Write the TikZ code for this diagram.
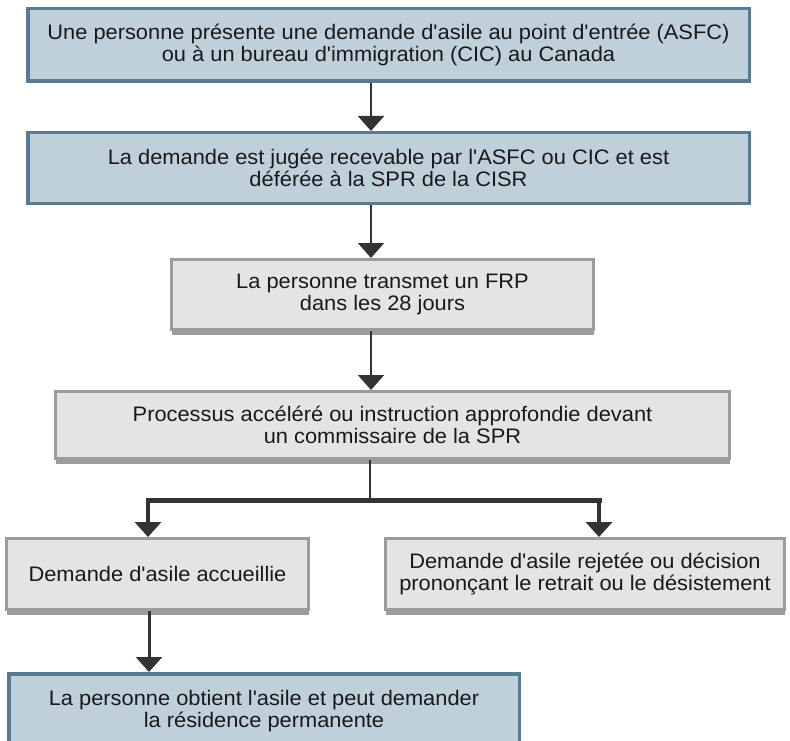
\documentclass[tikz,border=0pt]{standalone}
\usepackage{fontspec}
\setmainfont{Liberation Sans}[Ligatures=TeXOff, FakeStretch=1.04]
\usetikzlibrary{arrows.meta,positioning,shadows}
\definecolor{boxblue}{HTML}{C0D0DA}
\definecolor{edgeblue}{HTML}{587A93}
\definecolor{boxgrey}{HTML}{E4E4E4}
\definecolor{edgegrey}{HTML}{9C9C9C}
\definecolor{inkgrey}{HTML}{333333}
\tikzset{
    %Define standard arrow tip
    >={Triangle[width=26pt,length=15pt]},
    %Define style for boxes
    box/.style={
           rectangle,
           font=\fontsize{21}{22}\selectfont,
           text=black!90,
           align=center,
           inner sep=0pt},
    bluebox/.style={
           box,
           fill=boxblue,
           draw=edgeblue,
           line width=3.5pt},
    greybox/.style={
           box,
           fill=boxgrey,
           draw=edgegrey,
           line width=3pt,
           drop shadow={shadow xshift=0pt, shadow yshift=-5.5pt,
                        fill=edgegrey, opacity=1}},
    % Define arrow style
    arrow/.style={
           ->,
           draw=inkgrey,
           line width=2pt,
           },
    bar/.style={
           draw=inkgrey,
           line width=5pt,
           line cap=rect}
}

\begin{document}
\begin{tikzpicture}[x=1pt, y=-1pt]
    \useasboundingbox (0,0) rectangle (790,741);

    \node [bluebox, minimum width=721.5pt, minimum height=72.5pt] (claim) at (388.5,45)
        {Une personne présente une demande d'asile au point d'entrée (ASFC)\\
         ou à un bureau d'immigration (CIC) au Canada};
    \node [bluebox, minimum width=721.5pt, minimum height=70.5pt, below=48pt of claim] (referral)
        {La demande est jugée recevable par l'ASFC ou CIC et est\\
         déférée à la SPR de la CISR};
    \node [greybox, minimum width=422pt, minimum height=70pt, below=53pt of referral, xshift=-6pt] (form)
        {La personne transmet un FRP\\ dans les 28 jours};
    \node [greybox, minimum width=674pt, minimum height=67pt, below=59pt of form, xshift=10pt] (hearing)
        {Processus accéléré ou instruction approfondie devant\\
         un commissaire de la SPR};
    \node [greybox, minimum width=302pt, minimum height=71pt, below=77pt of hearing, xshift=-235pt] (accepted)
        {Demande d'asile accueillie};
    \node [greybox, minimum width=399pt, minimum height=71pt, below=77pt of hearing, xshift=192.5pt] (rejected)
        {Demande d'asile rejetée ou décision\\
         prononçant le retrait ou le désistement};
    \node [bluebox, minimum width=510.5pt, minimum height=75pt, below=61pt of accepted, xshift=106.5pt] (asylum)
        {La personne obtient l'asile et peut demander\\
         la résidence permanente};

    \coordinate (spine) at (371,0);
    \coordinate (split) at (370,500);
    \coordinate (left drop) at (148,500);
    \coordinate (right drop) at (599,500);
    \coordinate (grant) at (149,0);

	\path[->] (claim.south -| spine) edge[arrow] (referral.north -| spine);
	\path[->] (referral.south -| spine) edge[arrow] (form.north -| spine);
	\path[->] (form.south -| spine) edge[arrow] (hearing.north -| spine);
	\draw[inkgrey, line width=2pt] (hearing.south -| split) -- (split);
	\draw[bar] (left drop) -- (right drop);
	\path[->] (left drop) edge[arrow, line width=4pt] (accepted.north -| left drop);
	\path[->] (right drop) edge[arrow, line width=4pt] (rejected.north -| right drop);
	\path[->] (accepted.south -| grant) edge[arrow, line width=3pt] (asylum.north -| grant);
\end{tikzpicture}
\end{document}
